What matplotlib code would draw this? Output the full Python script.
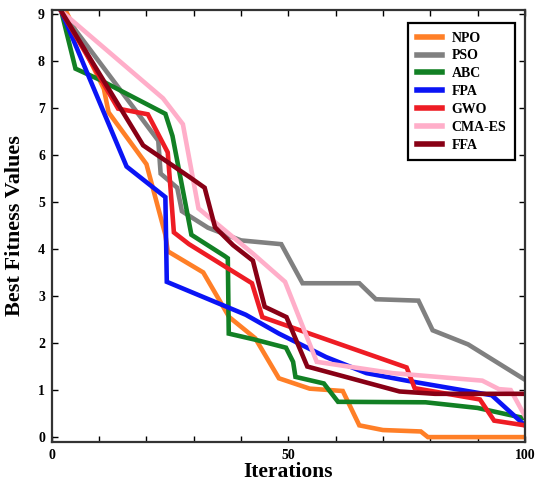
import matplotlib.pyplot as plt

# convergence curves, iterations vs best fitness
npo_x = [3, 11, 12, 20, 24, 24.5, 32, 37.5, 43, 48, 54.5, 61.5, 65, 70, 78, 79.5, 100]
npo_y = [9.05, 7.4, 6.9, 5.8, 4.3, 3.95, 3.5, 2.55, 2.1, 1.25, 1.03, 0.98, 0.25, 0.15, 0.12, 0.0, 0.0]

pso_x = [2, 22.5, 23, 26.5, 27.5, 33, 40, 48.5, 53, 65, 68.5, 77.5, 80.5, 88, 100]
pso_y = [9.05, 6.3, 5.6, 5.3, 4.8, 4.45, 4.18, 4.1, 3.27, 3.27, 2.93, 2.9, 2.27, 1.97, 1.22]

abc_x = [2, 5, 10, 24, 25.5, 29.5, 36.5, 37.2, 37.4, 43, 49.5, 51, 51.5, 57.5, 60.5, 79, 90, 100]
abc_y = [9.05, 7.83, 7.6, 6.87, 6.4, 4.3, 3.85, 3.8, 2.2, 2.07, 1.9, 1.6, 1.28, 1.14, 0.75, 0.74, 0.62, 0.4]

fpa_x = [2, 15.8, 24, 24.3, 41, 48, 58, 66.5, 75, 93, 100]
fpa_y = [9.05, 5.75, 5.1, 3.3, 2.6, 2.2, 1.7, 1.36, 1.2, 0.89, 0.25]

gwo_x = [2, 14, 20.3, 24.5, 25.8, 29, 42.3, 44.5, 75, 76.7, 90.5, 93.5, 100]
gwo_y = [9.05, 6.98, 6.86, 6.05, 4.35, 4.1, 3.27, 2.55, 1.48, 1.04, 0.8, 0.35, 0.25]

cma_x = [2, 23.5, 27.7, 31, 42.5, 49.3, 56, 72, 91, 94.5, 97, 100]
cma_y = [9.05, 7.2, 6.65, 4.86, 3.9, 3.3, 1.6, 1.36, 1.2, 1.02, 1.0, 0.45]

ffa_x = [2, 19.3, 29.2, 32.3, 34.5, 38.3, 42.5, 45, 49.6, 54, 73.5, 81, 100]
ffa_y = [9.05, 6.2, 5.52, 5.3, 4.46, 4.08, 3.75, 2.77, 2.55, 1.5, 0.97, 0.92, 0.92]

series = [
    ("NPO", npo_x, npo_y, "#ff7f27"),
    ("PSO", pso_x, pso_y, "#808080"),
    ("ABC", abc_x, abc_y, "#128024"),
    ("FPA", fpa_x, fpa_y, "#0a14f5"),
    ("GWO", gwo_x, gwo_y, "#ee1c24"),
    ("CMA-ES", cma_x, cma_y, "#ffaec9"),
    ("FFA", ffa_x, ffa_y, "#880015"),
]

plt.rcParams["font.family"] = ["Liberation Serif", "DejaVu Serif"]
plt.rcParams["font.weight"] = "bold"

fig = plt.figure(figsize=(5.4, 4.92), dpi=100)
ax = fig.add_axes([0.096, 0.102, 0.876, 0.878])

for name, xs, ys, col in series:
    ax.plot(xs, ys, color=col, linewidth=3.3, label=name, solid_joinstyle="miter")

ax.set_xlim(0, 100)
ax.set_ylim(-0.1, 9.08)
ax.set_xticks(range(0, 101, 10))
ax.set_xticklabels([str(v) if v % 50 == 0 else "" for v in range(0, 101, 10)])
ax.set_yticks(range(0, 10))
ax.tick_params(direction="in", top=True, right=True, labelsize=10, length=4,
               width=1.0, pad=5)
for s in ax.spines.values():
    s.set_linewidth(1.6)
    s.set_color("#333333")

ax.set_xlabel("Iterations", fontsize=15.5, fontweight="bold", labelpad=0)
ax.set_ylabel("Best Fitness Values", fontsize=16, fontweight="bold", labelpad=9)

leg = ax.legend(loc="upper right", bbox_to_anchor=(0.993, 0.985), fontsize=10,
                handlelength=1.8, handletextpad=0.7, labelspacing=0.35,
                fancybox=False, framealpha=1, borderpad=0.6)
leg.get_frame().set_edgecolor("black")
leg.get_frame().set_linewidth(1.6)
for h in leg.legend_handles:
    h.set_linewidth(4)

fig.savefig("out.png", dpi=100)
